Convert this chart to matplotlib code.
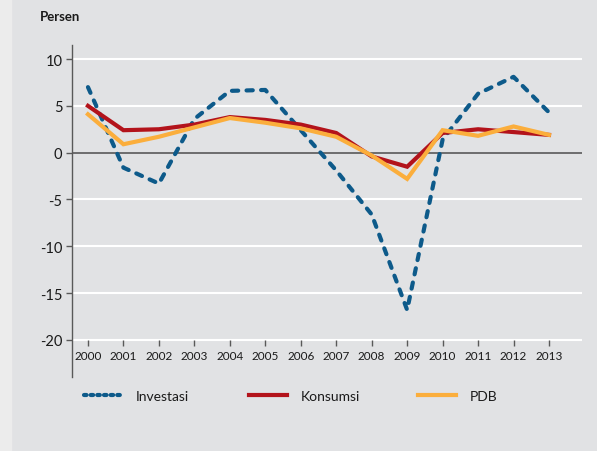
import numpy as np
import matplotlib
matplotlib.use("Agg")
import matplotlib.pyplot as plt
from matplotlib.lines import Line2D

plt.rcParams['font.family'] = ['Lato', 'DejaVu Sans']

years = list(range(2000, 2014))
investasi = [7.0, -1.6, -3.3, 3.6, 6.6, 6.7, 2.4, -1.9, -6.6, -16.8, 1.4, 6.3, 8.1, 4.3]
konsumsi = [5.0, 2.4, 2.5, 3.0, 3.8, 3.5, 3.0, 2.1, -0.4, -1.5, 2.1, 2.5, 2.2, 1.9]
pdb = [4.1, 0.9, 1.7, 2.7, 3.7, 3.2, 2.6, 1.7, -0.3, -2.8, 2.4, 1.8, 2.8, 1.9]
yticks = [10, 5, 0, -5, -10, -15, -20]
title = "Persen"
labels = ["Investasi", "Konsumsi", "PDB"]

c_inv = "#0d5a8a"
c_kon = "#b3131b"
c_pdb = "#fbae3c"
bg = "#e1e2e4"

fig = plt.figure(figsize=(5.97, 4.52), dpi=100)
fig.patch.set_facecolor(bg)
fig.add_artist(plt.Rectangle((0, 0), 11 / 597, 1, transform=fig.transFigure,
                             color="#ececec", zorder=0))

ax = fig.add_axes([72 / 597, 1 - 378 / 452, 510 / 597, 332 / 452])
ax.set_facecolor(bg)
ax.set_xlim(1999.55, 2013.93)
ax.set_ylim(-23.96, 11.5)

for v in yticks:
    if v != 0:
        ax.axhline(v, color="white", lw=1.5, zorder=1)
ax.axhline(0, color="#595959", lw=1.2, zorder=2)

for s in ["top", "right"]:
    ax.spines[s].set_visible(False)
ax.spines["left"].set_color("#595959")
ax.spines["left"].set_linewidth(1.0)
ax.spines["bottom"].set_position(("data", -20))
ax.spines["bottom"].set_visible(False)

ax.set_yticks(yticks)
ax.set_yticklabels([str(v) for v in yticks])
ax.set_xticks(years)
ax.set_xticklabels([str(y) for y in years])
ax.tick_params(axis="y", direction="out", length=4, width=1, color="#595959",
               labelsize=10.5, labelcolor="#1a1a1a", pad=3)
ax.tick_params(axis="x", direction="out", length=4, width=1, color="#595959",
               labelsize=8.5, labelcolor="#1a1a1a", pad=3)

ax.plot(years, investasi, color=c_inv, lw=3.0, dashes=(1.5, 2.0),
        dash_capstyle="round", solid_joinstyle="round", zorder=4)
ax.plot(years, konsumsi, color=c_kon, lw=3.0, zorder=5, solid_joinstyle="miter")
ax.plot(years, pdb, color=c_pdb, lw=3.0, zorder=6, solid_joinstyle="miter")

fig.text(40 / 597, 1 - 17 / 452, title, fontsize=9.5, fontweight="bold",
         color="#1a1a1a", va="center", ha="left")

handles = [
    Line2D([], [], color=c_inv, lw=3.0, dashes=(0.6, 1.0), dash_capstyle="round"),
    Line2D([], [], color=c_kon, lw=3.0),
    Line2D([], [], color=c_pdb, lw=3.0),
]
xpos = [84, 249, 418]
for h, lab, xp in zip(handles, labels, xpos):
    fig.legend([h], [lab], loc="center left",
               bbox_to_anchor=(xp / 597, 1 - 397 / 452), frameon=False,
               borderpad=0, borderaxespad=0, handlelength=2.75,
               handletextpad=1.0, fontsize=10, labelcolor="#1a1a1a")

fig.savefig("out.png", dpi=100, facecolor=bg)
